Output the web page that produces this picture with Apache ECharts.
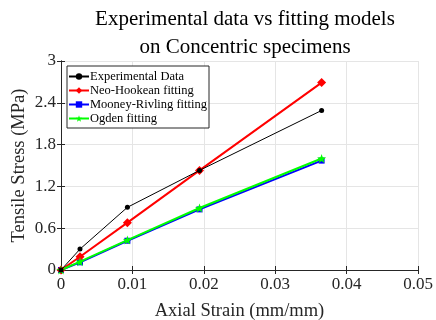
<!DOCTYPE html>
<html>
<head>
<meta charset="utf-8">
<script src="https://cdn.jsdelivr.net/npm/echarts@6/dist/echarts.min.js"></script>
<style>
  html, body { margin: 0; padding: 0; background: #fff; }
  #chart { width: 436px; height: 320px; }
</style>
</head>
<body>
<div id="chart"></div>
<script>
const strain = [0, 0.00266, 0.0093, 0.0194, 0.0365];
const experimental = [0, 0.30, 0.90, 1.43, 2.29];
const neoHookean = [0, 0.19, 0.68, 1.43, 2.69];
const mooneyRivlin = [0, 0.11, 0.42, 0.87, 1.57];
const ogden = [0, 0.12, 0.43, 0.89, 1.60];
const xTicks = [0, 0.01, 0.02, 0.03, 0.04, 0.05];
const yTicks = [0, 0.6, 1.2, 1.8, 2.4, 3];

const FONT = "Liberation Serif";
const pairs = (ys) => strain.map((x, i) => [x, ys[i]]);
const star = "path://M0,-10 L2.4,-3.3 9.5,-3.1 3.9,1.3 5.9,8.1 0,4.1 -5.9,8.1 -3.9,1.3 -9.5,-3.1 -2.4,-3.3Z";

const chart = echarts.init(document.getElementById("chart"));

const axisCommon = {
  axisLine: { show: true, lineStyle: { color: "#262626", width: 1 } },
  axisTick: { show: true, inside: true, length: 4, lineStyle: { color: "#262626" } },
  axisLabel: { fontFamily: FONT, fontSize: 17, color: "#262626" },
};

chart.setOption({
  animation: false,
  title: {
    text: "Experimental data vs fitting models\non Concentric specimens",
    left: 240,
    textAlign: "center",
    top: 0,
    textStyle: { fontFamily: FONT, fontSize: 21, fontWeight: "normal", color: "#000", lineHeight: 28 },
  },
  grid: { left: 61, right: 18, top: 61, bottom: 50, outerBoundsMode: "none" },
  legend: {
    left: 67, top: 66, orient: "vertical",
    borderColor: "#262626", borderWidth: 1, borderRadius: 0,
    padding: [4, 2, 3, 1], itemGap: 1, itemWidth: 20, itemHeight: 8,
    textStyle: { fontFamily: FONT, fontSize: 12.5, color: "#000", padding: [0, 0, 0, -4] },
    backgroundColor: "#fff",
    data: ["Experimental Data", "Neo-Hookean fitting", "Mooney-Rivling fitting", "Ogden fitting"],
  },
  xAxis: [
    {
      ...axisCommon,
      type: "value", min: xTicks[0], max: xTicks[xTicks.length - 1], interval: 0.01,
      name: "Axial Strain (mm/mm)", nameLocation: "middle", nameGap: 32,
      nameTextStyle: { fontFamily: FONT, fontSize: 18.5, color: "#262626" },
      axisLabel: { ...axisCommon.axisLabel, margin: 6 },
      splitLine: { show: true, lineStyle: { color: "#e5e5e5", width: 1 } },
    },
    {
      ...axisCommon, type: "value", position: "top",
      min: xTicks[0], max: xTicks[xTicks.length - 1], interval: 0.01,
      axisLabel: { show: false }, splitLine: { show: false },
    },
  ],
  yAxis: [
    {
      ...axisCommon,
      type: "value", min: yTicks[0], max: yTicks[yTicks.length - 1], interval: 0.6,
      name: "Tensile Stress (MPa)", nameLocation: "middle", nameGap: 32, nameMoveOverlap: false,
      nameTextStyle: { fontFamily: FONT, fontSize: 18.5, color: "#262626" },
      axisLabel: { ...axisCommon.axisLabel, margin: 5 },
      splitLine: { show: true, lineStyle: { color: "#e5e5e5", width: 1 } },
    },
    {
      ...axisCommon, type: "value", position: "right",
      min: yTicks[0], max: yTicks[yTicks.length - 1], interval: 0.6,
      axisLabel: { show: false }, splitLine: { show: false },
    },
  ],
  series: [
    {
      name: "Experimental Data", type: "line", data: pairs(experimental),
      symbol: "circle", symbolSize: 5,
      lineStyle: { color: "#000", width: 1 }, itemStyle: { color: "#000" }, z: 5,
    },
    {
      name: "Neo-Hookean fitting", type: "line", data: pairs(neoHookean),
      symbol: "diamond", symbolSize: 9,
      lineStyle: { color: "#ff0000", width: 2 }, itemStyle: { color: "#ff0000" }, z: 4,
    },
    {
      name: "Mooney-Rivling fitting", type: "line", data: pairs(mooneyRivlin),
      symbol: "rect", symbolSize: 6,
      lineStyle: { color: "#0000ff", width: 2 }, itemStyle: { color: "#0000ff" }, z: 3,
    },
    {
      name: "Ogden fitting", type: "line", data: pairs(ogden),
      symbol: star, symbolSize: 9,
      lineStyle: { color: "#00ff00", width: 2 }, itemStyle: { color: "#00ff00" }, z: 4,
    },
  ],
});
</script>
</body>
</html>
